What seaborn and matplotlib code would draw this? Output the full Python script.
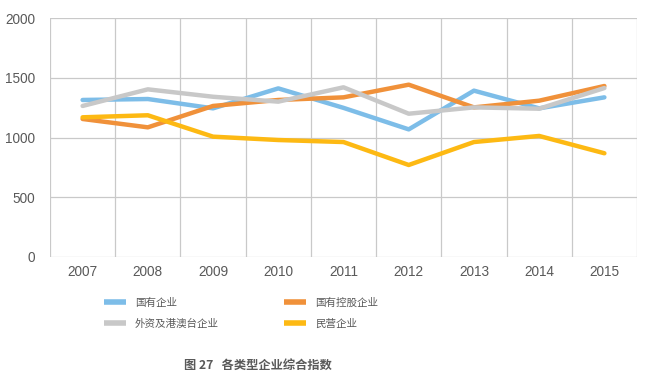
import numpy as np
import pandas as pd
import matplotlib
matplotlib.use("Agg")
import matplotlib.pyplot as plt
from matplotlib.ticker import FixedLocator
import seaborn as sns

# ---- data ----
years = ["2007", "2008", "2009", "2010", "2011", "2012", "2013", "2014", "2015"]
series_names = ["国有企业", "国有控股企业", "外资及港澳台企业", "民营企业"]
state_owned      = [1314, 1322, 1244, 1411, 1248, 1068, 1392, 1244, 1336]
state_controlled = [1155, 1085, 1264, 1314, 1336, 1442, 1252, 1308, 1431]
foreign_hmt      = [1264, 1403, 1341, 1300, 1420, 1199, 1252, 1241, 1414]
private          = [1169, 1186, 1007, 979, 962, 770, 962, 1013, 868]
colors = ["#7DBDE8", "#F0913A", "#C8C8C8", "#FDB913"]
y_ticks = [0, 500, 1000, 1500, 2000]
caption = "图 27   各类型企业综合指数"

sns.set_theme(style="white")
plt.rcParams["font.family"] = ["Liberation Sans", "Noto Sans CJK SC", "DejaVu Sans"]

values = [state_owned, state_controlled, foreign_hmt, private]
df = pd.DataFrame({
    "idx": np.tile(np.arange(len(years)), len(series_names)),
    "value": np.concatenate(values),
    "series": np.repeat(series_names, len(years)),
})

fig = plt.figure(figsize=(6.55, 3.88), dpi=100)
ax = fig.add_axes([50 / 655, 1 - 257 / 388, 587 / 655, 239 / 388])

sns.lineplot(data=df, x="idx", y="value", hue="series", hue_order=series_names,
             palette=colors, linewidth=3.2, ax=ax, legend=False, sort=False)

ax.set_xlim(-0.5, len(years) - 0.5)
ax.set_ylim(0, 2000)
ax.set_xticks(range(len(years)))
ax.set_xticklabels(years)
ax.xaxis.set_minor_locator(FixedLocator(np.arange(-0.5, len(years), 1.0)))
ax.set_yticks(y_ticks)
ax.set_xlabel("")
ax.set_ylabel("")

grid_c = "#C9C9C9"
ax.grid(axis="y", which="major", color=grid_c, linewidth=0.9)
ax.grid(axis="x", which="minor", color=grid_c, linewidth=0.9)
ax.grid(axis="x", which="major", visible=False)
ax.set_axisbelow(True)
for s in ax.spines.values():
    s.set_visible(False)

ax.tick_params(axis="x", which="major", length=0, pad=6, labelsize=9.8, labelcolor="#595959")
ax.tick_params(axis="x", which="minor", length=3, color=grid_c, width=0.9)
ax.tick_params(axis="y", which="major", length=0, pad=10.8, labelsize=9.8, labelcolor="#595959")

# legend in two columns below the plot (row-major order as in the reference)
order = [0, 2, 1, 3]
handles = [plt.Line2D([0], [0], color=colors[i], linewidth=4, solid_capstyle="butt")
           for i in order]
labels = [series_names[i] for i in order]
fig.legend(handles, labels, ncol=2, frameon=False,
           loc="upper left", bbox_to_anchor=(94 / 655, 1 - 288 / 388),
           prop={"family": ["Noto Sans CJK SC", "DejaVu Sans"], "size": 7.6},
           labelcolor="#595959", handlelength=2.1,
           handletextpad=0.85, columnspacing=6.2, labelspacing=1.05)

fig.text(258 / 655, 1 - 365 / 388, caption, ha="center", va="center",
         fontsize=8.8, color="#595959", fontweight="bold",
         family=["Noto Sans CJK SC", "DejaVu Sans"])

fig.savefig("out.png", dpi=100)
